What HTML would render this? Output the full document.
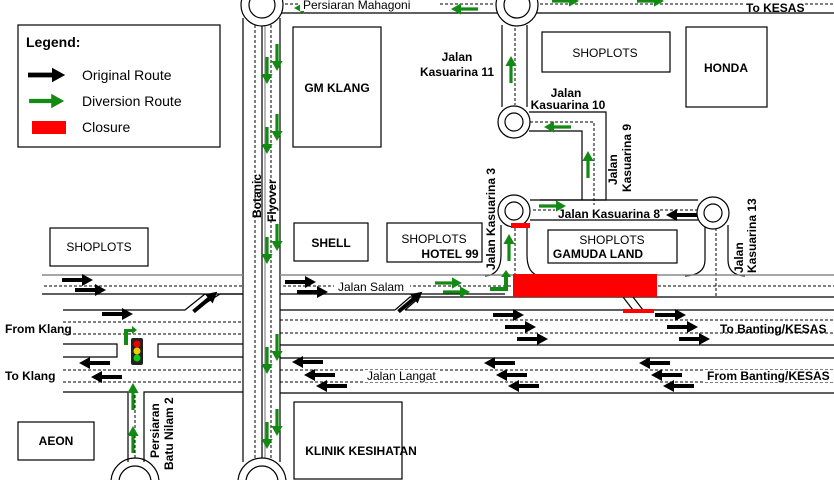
<!DOCTYPE html>
<html><head><style>html,body{margin:0;width:834px;height:480px;overflow:hidden;background:#fff}svg{display:block;overflow:hidden}text{font-family:"Liberation Sans",sans-serif;font-size:12px;fill:#000}</style></head><body>
<svg width="834" height="480" viewBox="0 0 834 480" xmlns="http://www.w3.org/2000/svg">
<defs>
<path id="ba" d="M-15,-2 h20 v-4 l11,6 l-11,6 v-4 h-20z" fill="#000"/>
<path id="ga" d="M-13,-1.6 h17 v-4 l10,5.6 l-10,5.6 v-4 h-17z" fill="#138a13"/>
<clipPath id="c"><rect x="0" y="0" width="834" height="480"/></clipPath>
</defs>
<g clip-path="url(#c)">
<g stroke="#000" stroke-width="1.2" fill="none">
<line x1="243" y1="18" x2="243" y2="462"/><line x1="280" y1="18" x2="280" y2="462"/>
<line x1="262" y1="22" x2="262" y2="460"/><line x1="265" y1="22" x2="265" y2="460" stroke="#888"/>
<line x1="255" y1="25" x2="255" y2="458" stroke-dasharray="3,2" stroke-width="1"/>
<line x1="271" y1="25" x2="271" y2="458" stroke-dasharray="3,2" stroke-width="1"/>
<line x1="280" y1="13" x2="497" y2="13"/>
<line x1="285" y1="4" x2="495" y2="4" stroke-dasharray="3,2" stroke-width="1"/>
<line x1="537" y1="13" x2="834" y2="13"/>
<line x1="540" y1="4" x2="834" y2="4" stroke-dasharray="3,2" stroke-width="1"/>
<line x1="502" y1="25" x2="502" y2="107"/><line x1="527" y1="25" x2="527" y2="107"/>
<line x1="515" y1="28" x2="515" y2="105" stroke-dasharray="3,2" stroke-width="1"/>
<polyline points="529,112 606,112 606,200 540,200"/>
<polyline points="529,131 582,131 582,200"/>
<polyline points="530,122 594,122 594,205" stroke-dasharray="3,2" stroke-width="1"/>
<line x1="530" y1="200" x2="698" y2="200"/><line x1="530" y1="220" x2="698" y2="220"/>
<line x1="533" y1="210" x2="555" y2="210" stroke-dasharray="3,2" stroke-width="1"/>
<line x1="660" y1="210" x2="697" y2="210" stroke-dasharray="3,2" stroke-width="1"/>
<path d="M501,225 V255 Q501,275 485,276"/>
<path d="M527,225 V255 Q527,274 540,276"/>
<line x1="515" y1="228" x2="515" y2="276" stroke-dasharray="3,2" stroke-width="1"/>
<path d="M705,225 V260 Q705,275 685,276"/>
<path d="M728,225 V260 Q728,275 745,276"/>
<line x1="716" y1="228" x2="716" y2="296" stroke-dasharray="3,2" stroke-width="1"/>
<circle cx="262" cy="5" r="21" fill="#fff"/><circle cx="262" cy="5" r="13"/>
<circle cx="517" cy="5" r="21" fill="#fff"/><circle cx="517" cy="5" r="13"/>
<circle cx="514" cy="122" r="16" fill="#fff"/><circle cx="514" cy="122" r="9"/>
<circle cx="514" cy="211" r="16" fill="#fff"/><circle cx="514" cy="211" r="9"/>
<circle cx="713" cy="213" r="16" fill="#fff"/><circle cx="713" cy="213" r="9"/>
<circle cx="135" cy="482" r="24" fill="#fff"/><circle cx="135" cy="482" r="16"/>
<circle cx="262" cy="482" r="24" fill="#fff"/><circle cx="262" cy="482" r="16"/>
<line x1="42" y1="275" x2="243" y2="275" stroke="#888" stroke-width="1.5"/>
<line x1="44" y1="286" x2="243" y2="286" stroke-dasharray="3,2" stroke-width="1"/>
<line x1="42" y1="294" x2="243" y2="294"/>
<polyline points="63,310 185,310 205,294"/>
<polyline points="195,310 220,294 243,294"/>
<line x1="63" y1="322" x2="243" y2="322" stroke-dasharray="3,2" stroke-width="1"/>
<line x1="63" y1="334" x2="243" y2="334" stroke-dasharray="3,2" stroke-width="1"/>
<polyline points="63,344 117,344 117,357 63,357"/>
<polyline points="243,344 158,344 158,357 243,357"/>
<line x1="63" y1="370" x2="243" y2="370" stroke-dasharray="3,2" stroke-width="1"/>
<line x1="63" y1="382" x2="243" y2="382" stroke-dasharray="3,2" stroke-width="1"/>
<polyline points="63,392 128,392 128,462"/>
<polyline points="243,392 144,392 144,462"/>
<line x1="135" y1="395" x2="135" y2="460" stroke-dasharray="3,2" stroke-width="1"/>
<line x1="280" y1="275" x2="834" y2="275" stroke="#888" stroke-width="1.5"/>
<line x1="283" y1="286" x2="834" y2="286" stroke-dasharray="3,2" stroke-width="1"/>
<line x1="280" y1="294" x2="505" y2="294"/>
<polyline points="395,310 410,297 834,297"/>
<polyline points="405,310 420,297"/>
<line x1="280" y1="310" x2="395" y2="310"/><line x1="405" y1="310" x2="834" y2="310"/>
<line x1="280" y1="320" x2="834" y2="320" stroke-dasharray="3,2" stroke-width="1"/>
<line x1="280" y1="333" x2="834" y2="333" stroke-dasharray="3,2" stroke-width="1"/>
<line x1="280" y1="345" x2="834" y2="345"/>
<line x1="280" y1="358" x2="834" y2="358"/>
<line x1="280" y1="370" x2="834" y2="370" stroke-dasharray="3,2" stroke-width="1"/>
<line x1="280" y1="382" x2="834" y2="382" stroke-dasharray="3,2" stroke-width="1"/>
<line x1="280" y1="393" x2="834" y2="393"/>
<line x1="623" y1="297" x2="633" y2="310"/><line x1="633" y1="297" x2="643" y2="310"/>
<rect x="18" y="25" width="202" height="122" fill="#fff"/>
<rect x="293" y="27" width="88" height="120"/>
<rect x="542" y="32" width="128" height="40"/>
<rect x="686" y="27" width="81" height="80"/>
<rect x="50" y="228" width="98" height="38"/>
<rect x="294" y="223" width="74" height="38"/>
<rect x="387" y="223" width="95" height="39"/>
<rect x="548" y="230" width="129" height="33"/>
<rect x="18" y="422" width="76" height="38"/>
<rect x="294" y="402" width="108" height="77"/>
</g>
<rect x="513" y="274" width="144" height="23" fill="#f00"/>
<rect x="511" y="223" width="19" height="5" fill="#f00"/>
<rect x="623" y="309" width="31" height="4" fill="#f00"/>
<rect x="32" y="121" width="34" height="13" fill="#f00"/>
<use href="#ba" transform="translate(46,75) scale(1.2)"/>
<use href="#ga" transform="translate(46,101) scale(1.3)"/>
<rect x="131" y="338" width="12" height="27" rx="2" fill="#222"/>
<circle cx="137" cy="344" r="3.5" fill="#e00"/><circle cx="137" cy="351" r="3.5" fill="#ec0"/><circle cx="137" cy="358" r="3.5" fill="#1c1"/>
<path d="M124,345 V329 H132 V326 L137,330 L132,334 V332 H128 V345z" fill="#138a13"/>
<g>
<use href="#ba" transform="translate(77,280)"/><use href="#ba" transform="translate(90,290)"/><use href="#ba" transform="translate(117,314)"/>
<use href="#ba" transform="translate(300,282)"/><use href="#ba" transform="translate(312,292)"/>
<use href="#ba" transform="translate(508,315)"/><use href="#ba" transform="translate(520,327)"/><use href="#ba" transform="translate(532,339)"/>
<use href="#ba" transform="translate(670,315)"/><use href="#ba" transform="translate(682,327)"/><use href="#ba" transform="translate(694,339)"/>
<use href="#ba" transform="translate(95,363) rotate(180)"/><use href="#ba" transform="translate(107,377) rotate(180)"/>
<use href="#ba" transform="translate(308,362) rotate(180)"/><use href="#ba" transform="translate(320,375) rotate(180)"/><use href="#ba" transform="translate(332,386) rotate(180)"/>
<use href="#ba" transform="translate(500,363) rotate(180)"/><use href="#ba" transform="translate(512,375) rotate(180)"/><use href="#ba" transform="translate(524,386) rotate(180)"/>
<use href="#ba" transform="translate(655,363) rotate(180)"/><use href="#ba" transform="translate(667,375) rotate(180)"/><use href="#ba" transform="translate(679,386) rotate(180)"/>
<use href="#ba" transform="translate(682,215) rotate(180)"/>
<use href="#ba" transform="translate(205,302) rotate(-40)"/><use href="#ba" transform="translate(410,302) rotate(-40)"/>
</g>
<g>
<use href="#ga" transform="translate(448,283)"/><use href="#ga" transform="translate(456,292)"/>
<path d="M490,287 h14 v-10 h-3 l5,-7 l5,7 h-3 v14 h-18z" fill="#138a13"/>
<use href="#ga" transform="translate(509,248) rotate(-90)"/>
<use href="#ga" transform="translate(552,206)"/>
<use href="#ga" transform="translate(588,165) rotate(-90)"/>
<use href="#ga" transform="translate(558,127) rotate(180)"/>
<use href="#ga" transform="translate(511,70) rotate(-90)"/>
<use href="#ga" transform="translate(308,8) rotate(180)"/><use href="#ga" transform="translate(465,9) rotate(180)"/>
<use href="#ga" transform="translate(565,1)"/><use href="#ga" transform="translate(650,1)"/>
<use href="#ga" transform="translate(267,70) rotate(90)"/><use href="#ga" transform="translate(277,57) rotate(90)"/>
<use href="#ga" transform="translate(267,140) rotate(90)"/><use href="#ga" transform="translate(277,127) rotate(90)"/>
<use href="#ga" transform="translate(267,250) rotate(90)"/><use href="#ga" transform="translate(277,237) rotate(90)"/>
<use href="#ga" transform="translate(267,360) rotate(90)"/><use href="#ga" transform="translate(277,347) rotate(90)"/>
<use href="#ga" transform="translate(267,435) rotate(90)"/><use href="#ga" transform="translate(277,422) rotate(90)"/>
<use href="#ga" transform="translate(133,397) rotate(-90)"/><use href="#ga" transform="translate(133,440) rotate(-90)"/>
</g>
<rect x="300" y="0" width="140" height="11" fill="#fff"/>
<text x="303" y="9">Persiaran Mahagoni</text>
<rect x="744" y="3" width="60" height="9" fill="#fff"/>
<text x="746" y="12" font-weight="bold">To KESAS</text>
<text x="26" y="47" font-weight="bold" style="font-size:14px">Legend:</text>
<text x="82" y="80" style="font-size:14px">Original Route</text>
<text x="82" y="106" style="font-size:14px">Diversion Route</text>
<text x="82" y="132" style="font-size:14px">Closure</text>
<text x="337" y="92" text-anchor="middle" font-weight="bold">GM KLANG</text>
<text x="605" y="57" text-anchor="middle">SHOPLOTS</text>
<text x="726" y="72" text-anchor="middle" font-weight="bold">HONDA</text>
<text x="457" y="61" text-anchor="middle" font-weight="bold">Jalan</text>
<text x="457" y="76" text-anchor="middle" font-weight="bold">Kasuarina 11</text>
<text x="566" y="97" text-anchor="middle" font-weight="bold">Jalan</text>
<text x="568" y="109" text-anchor="middle" font-weight="bold">Kasuarina 10</text>
<text transform="translate(617,185) rotate(-90)" font-weight="bold">Jalan</text>
<text transform="translate(631,192) rotate(-90)" font-weight="bold">Kasuarina 9</text>
<text x="558" y="218" font-weight="bold">Jalan Kasuarina 8</text>
<text transform="translate(495,270) rotate(-90)" font-weight="bold">Jalan Kasuarina 3</text>
<text transform="translate(743,273) rotate(-90)" font-weight="bold">Jalan</text>
<text transform="translate(756,273) rotate(-90)" font-weight="bold">Kasuarina 13</text>
<text x="99" y="251" text-anchor="middle">SHOPLOTS</text>
<text x="331" y="247" text-anchor="middle" font-weight="bold">SHELL</text>
<text x="434" y="243" text-anchor="middle">SHOPLOTS</text>
<text x="450" y="258" text-anchor="middle" font-weight="bold">HOTEL 99</text>
<text x="612" y="244" text-anchor="middle">SHOPLOTS</text>
<text x="598" y="258" text-anchor="middle" font-weight="bold">GAMUDA LAND</text>
<text transform="translate(261,218) rotate(-90)" font-weight="bold">Botanic</text>
<text transform="translate(276,222) rotate(-90)" font-weight="bold">Flyover</text>
<rect x="334" y="280" width="76" height="13" fill="#fff"/>
<text x="338" y="291">Jalan Salam</text>
<text x="5" y="333" font-weight="bold">From Klang</text>
<text x="5" y="380" font-weight="bold">To Klang</text>
<text x="720" y="333" font-weight="bold">To Banting/KESAS</text>
<rect x="364" y="370" width="76" height="12" fill="#fff"/>
<text x="367" y="380">Jalan Langat</text>
<rect x="705" y="370" width="129" height="12" fill="#fff"/>
<text x="707" y="380" font-weight="bold">From Banting/KESAS</text>
<text transform="translate(159,458) rotate(-90)" font-weight="bold">Persiaran</text>
<text transform="translate(173,470) rotate(-90)" font-weight="bold">Batu Nilam 2</text>
<text x="56" y="445" text-anchor="middle" font-weight="bold">AEON</text>
<text x="361" y="455" text-anchor="middle" font-weight="bold">KLINIK KESIHATAN</text>
</g>
</svg>
</body></html>
